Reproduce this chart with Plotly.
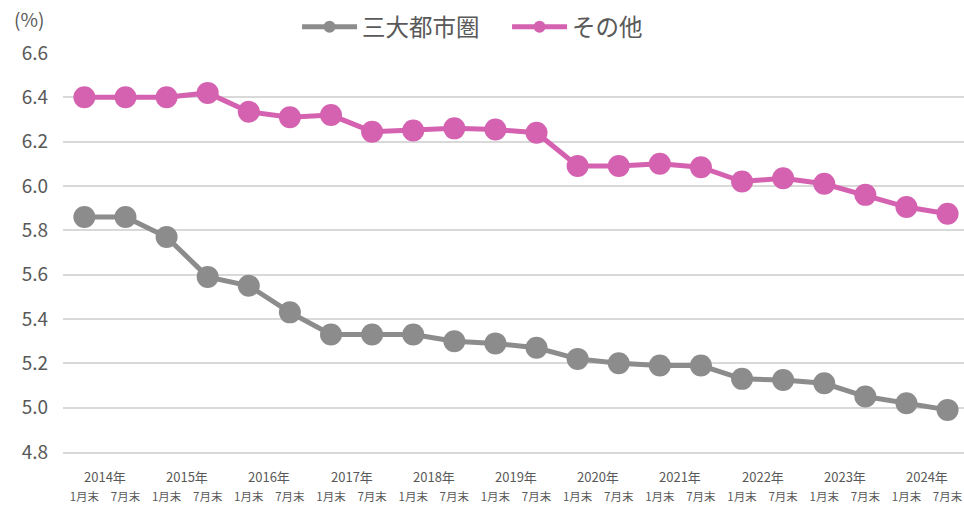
import plotly.graph_objects as go

# Half-yearly survey points, January-end and July-end, 2014 to 2024
years = ["2014年", "2015年", "2016年", "2017年", "2018年", "2019年",
         "2020年", "2021年", "2022年", "2023年", "2024年"]
months = ["1月末", "7月末"]
period_labels = [m for _ in years for m in months]

# Rate (%) by region group
metro = [5.86, 5.86, 5.77, 5.59, 5.55, 5.43, 5.33, 5.33, 5.33, 5.30, 5.29,
         5.27, 5.22, 5.20, 5.19, 5.19, 5.13, 5.125, 5.11, 5.05, 5.02, 4.99]
others = [6.40, 6.40, 6.40, 6.42, 6.335, 6.31, 6.32, 6.245, 6.25, 6.26, 6.255,
          6.24, 6.09, 6.09, 6.10, 6.085, 6.02, 6.035, 6.01, 5.96, 5.905, 5.875]
series_names = ["三大都市圏", "その他"]
y_ticks = [4.8, 5.0, 5.2, 5.4, 5.6, 5.8, 6.0, 6.2, 6.4, 6.6]

FONT = "Noto Sans CJK JP"
TEXT = "#595959"
GRAY = "#8c8c8c"
PINK = "#d462b0"

xs = list(range(len(period_labels)))

fig = go.Figure()
for name, vals, col in [(series_names[0], metro, GRAY), (series_names[1], others, PINK)]:
    fig.add_trace(go.Scatter(
        x=xs, y=vals, name=name, mode="lines+markers",
        line=dict(color=col, width=5),
        marker=dict(color=col, size=22),
    ))

# Year labels centred over each pair of half-year ticks
for i, yr in enumerate(years):
    fig.add_annotation(
        x=2 * i + 0.5, y=0, xref="x", yref="paper", text=yr,
        showarrow=False, yanchor="top", yshift=-13,
        font=dict(family=FONT, size=13, color=TEXT),
    )

fig.add_annotation(
    x=0, y=1, xref="paper", yref="paper", text="(%)",
    showarrow=False, xanchor="right", yanchor="bottom",
    xshift=-17, yshift=19,
    font=dict(family=FONT, size=19, color=TEXT),
)

fig.update_layout(
    width=964, height=505,
    margin=dict(l=63, r=0, t=53, b=53, autoexpand=False),
    paper_bgcolor="white", plot_bgcolor="white",
    font=dict(family=FONT, color=TEXT),
    showlegend=True,
    legend=dict(
        orientation="h", x=0.526, xanchor="center", xref="container",
        y=1 - 27 / 505, yanchor="middle", yref="container",
        itemwidth=55, itemsizing="constant", entrywidth=140,
        font=dict(family=FONT, size=23.5, color=TEXT),
    ),
    xaxis=dict(
        range=[-0.52, 21.40],
        tickmode="array", tickvals=xs, ticktext=period_labels,
        tickfont=dict(family=FONT, size=11.5, color=TEXT),
        ticklabelstandoff=33,
        showgrid=False, zeroline=False,
        showline=True, linecolor="#d9d9d9", linewidth=1.5,
        ticks="",
    ),
    yaxis=dict(
        range=[4.8, 6.6],
        tickmode="array", tickvals=y_ticks,
        ticktext=[f"{v:.1f}" for v in y_ticks],
        tickfont=dict(family=FONT, size=19, color=TEXT),
        ticklabelstandoff=14,
        showgrid=True, gridcolor="#d9d9d9", gridwidth=1.5,
        zeroline=False, showline=False, ticks="",
    ),
)

fig.write_html("out.html")
